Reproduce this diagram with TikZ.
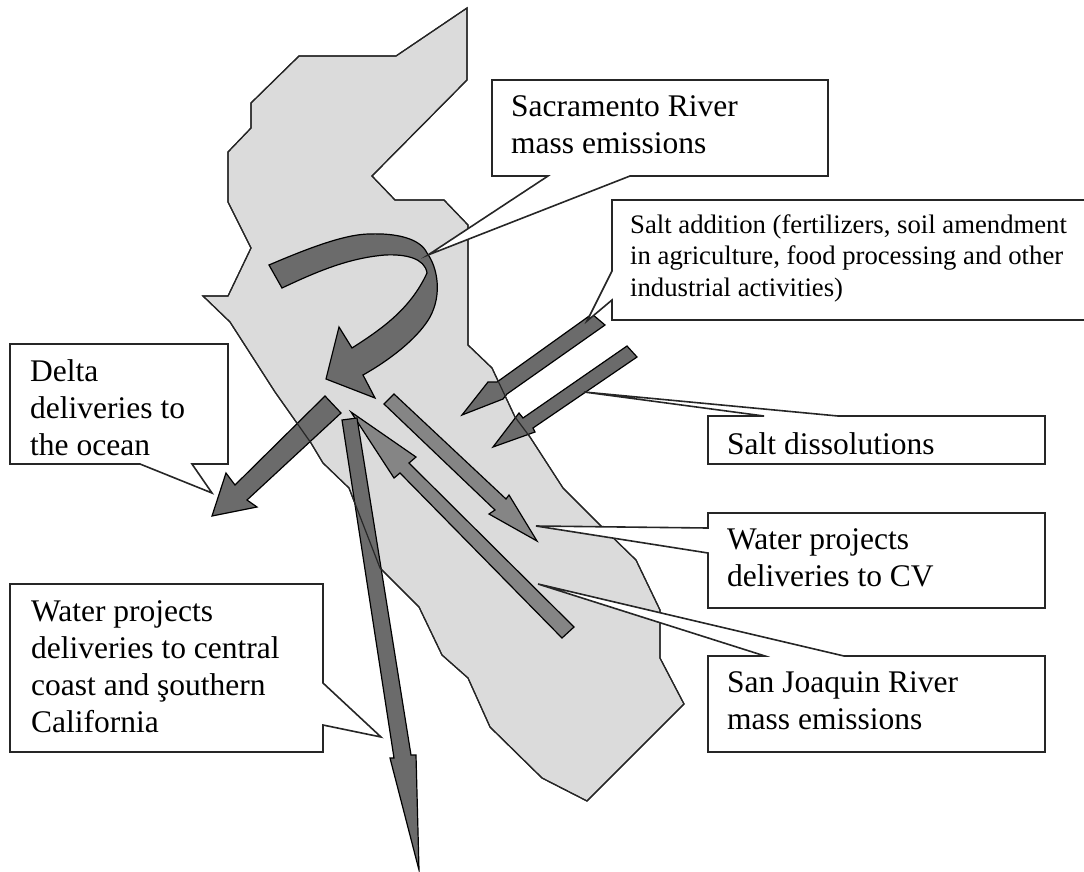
\documentclass[tikz,border=0pt]{standalone}
\usepackage{fontspec}
\setmainfont{Liberation Serif}
\usetikzlibrary{positioning}
\definecolor{statefill}{gray}{0.86}
\definecolor{flowdark}{gray}{0.42}
\definecolor{flowlight}{gray}{0.52}
\newcommand{\stateline}{(467,8) -- (467,80) -- (372,176) -- (395,200) -- (444,200) -- (468,225) -- (468,345) -- (492,368) -- (515,417) -- (530,437) -- (563,488) -- (601,526) -- (636,560) -- (660,610) -- (660,658) -- (684,704) -- (587,801) -- (542,778) -- (490,727) -- (468,678) -- (442,655) -- (419,607) -- (380,568) -- (349,488) -- (323,463) -- (311,443) -- (275,392) -- (230,322) -- (203,296) -- (228,296) -- (251,248) -- (228,202) -- (228,152) -- (251,128) -- (251,103) -- (299,56) -- (396,56) -- cycle}
\tikzset{
  state/.style={draw=black!85, line width=1.2pt},
  flow/.style={draw=black, line width=1.2pt, line join=miter, fill=flowdark},
  flowpale/.style={flow, fill=flowlight},
  callout/.style={draw=black!85, line width=1.6pt, fill=white, line join=miter},
  bigtext/.style={anchor=north west, inner sep=0pt, align=left, font=\fontsize{31.5}{37}\selectfont, execute at begin node=\rule{0pt}{24pt}},
  smalltext/.style={anchor=north west, inner sep=0pt, align=left, font=\fontsize{26.7}{31.5}\selectfont, execute at begin node=\rule{0pt}{24pt}},
}
\begin{document}
\begin{tikzpicture}[x=1pt,y=-1pt]
\useasboundingbox (0,0) rectangle (1084,871);
\fill[statefill] \stateline;
\draw[state] \stateline;
% flows
\draw[flow] (269,265) .. controls (320,243) and (350,234) .. (370,234) .. controls (395,233) and (420,238) .. (427,253) .. controls (438,268) and (442,295) .. (430,317) .. controls (420,335) and (395,357) .. (363,375) -- (375,398) -- (326,379) -- (339,327) -- (352,348) .. controls (380,330) and (410,310) .. (427,273) .. controls (425,258) and (405,254) .. (385,255) .. controls (350,258) and (320,270) .. (282,288) -- cycle;
\draw[flow] (592,314) -- (605,325) -- (507,394) -- (503,399) -- (462,415) -- (488,382) -- (497,382) -- cycle;
\draw[flow] (627,346) -- (637,357) -- (533,428) -- (535,432) -- (493,447) -- (519,413) -- (523,418) -- cycle;
\draw[flow] (325,396) -- (341,413) -- (247,500) -- (257,507) -- (212,516) -- (226,473) -- (235,485) -- cycle;
\draw[flowpale] (394,394) -- (506,499) -- (509,495) -- (537,541) -- (489,514) -- (495,510) -- (384,404) -- cycle;
\draw[flowpale] (574,627) -- (562,638) -- (400,473) -- (394,478) -- (351,412) -- (416,457) -- (409,463) -- cycle;
\draw[flow] (342,420) -- (357,418) -- (411,755) -- (416,755) -- (419,870) -- (390,758) -- (394,758) -- cycle;
\draw[state] \stateline;
% callouts
\draw[callout] (492,80) -- (828,80) -- (828,176) -- (630,176) -- (428,255) -- (548,176) -- (492,176) -- cycle;
\draw[callout] (612,200) -- (1086,200) -- (1086,320) -- (612,320) -- (612,300) -- (587,321) -- (612,271) -- cycle;
\draw[callout] (708,416) -- (764,416) -- (584,392) -- (838,416) -- (1045,416) -- (1045,464) -- (708,464) -- cycle;
\draw[callout] (708,513) -- (1045,513) -- (1045,608) -- (708,608) -- (708,553) -- (536,526) -- (708,528) -- cycle;
\draw[callout] (708,656) -- (765,656) -- (538,584) -- (844,656) -- (1045,656) -- (1045,752) -- (708,752) -- cycle;
\draw[callout] (10,344) -- (228,344) -- (228,464) -- (192,464) -- (212,493) -- (140,464) -- (10,464) -- cycle;
\draw[callout] (10,584) -- (323,584) -- (323,683) -- (381,737) -- (323,725) -- (323,752) -- (10,752) -- cycle;
% labels
\node[bigtext] (sacramento) at (511,95) {Sacramento River\\mass emissions};
\node[smalltext] (addition) at (630,214) {Salt addition (fertilizers, soil amendment\\in agriculture, food processing and other\\industrial activities)};
\node[bigtext] (dissolution) at (727,430) {Salt dissolutions};
\node[bigtext] (projects) at (727,528) {Water projects\\deliveries to CV};
\node[bigtext] (joaquin) at (727,671) {San Joaquin River\\mass emissions};
\node[bigtext] (delta) at (30,359) {Delta\\deliveries to\\the ocean};
\node[bigtext] (south) at (31,600) {Water projects\\deliveries to central\\coast and şouthern\\California};
\end{tikzpicture}
\end{document}
